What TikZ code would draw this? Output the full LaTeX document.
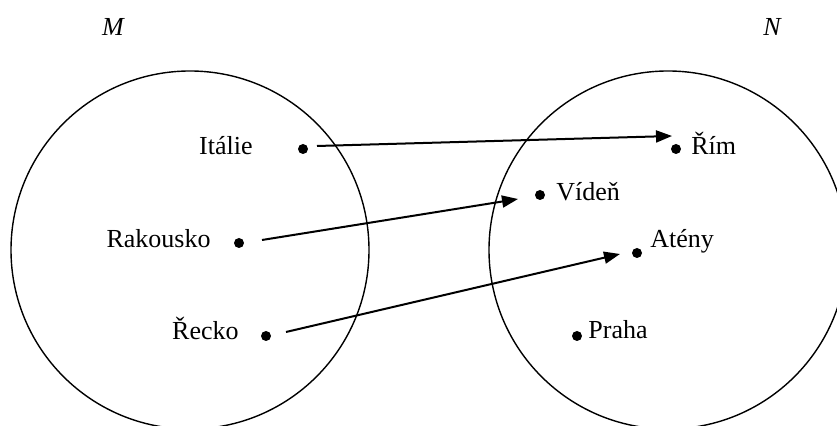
\documentclass[tikz,border=0pt]{standalone}
\usepackage{fontspec}
\setmainfont{Liberation Serif}
\usetikzlibrary{arrows.meta}
\begin{document}
\begin{tikzpicture}[x=0.5pt,y=-0.5pt,
  setline/.style={line width=0.7pt},
  dot/.style={circle,fill=black,inner sep=0pt,minimum size=5pt},
  lbl/.style={inner sep=0pt,font=\fontsize{13pt}{15pt}\selectfont},
  setname/.style={inner sep=0pt,anchor=base,font=\fontsize{13pt}{15pt}\selectfont\itshape},
  arr/.style={line width=1pt,-{Triangle[length=8pt,width=6pt]}}]
\clip (0,0) rectangle (837,426);
% sets
\draw[setline] (190,250) circle[radius=179];
\draw[setline] (668,250) circle[radius=179];
\node[setname] (M) at (113,36) {M};
\node[setname] (N) at (772,36) {N};
% elements of M
\node[dot] (it) at (303,149) {};
\node[dot] (ra) at (239,243) {};
\node[dot] (re) at (266,336) {};
\node[lbl,anchor=base east] (itl) at (253,155) {Itálie};
\node[lbl,anchor=base east] (ral) at (211,248) {Rakousko};
\node[lbl,anchor=base east] (rel) at (239,340) {Řecko};
% elements of N
\node[dot] (rim) at (676,149) {};
\node[dot] (vid) at (540,195) {};
\node[dot] (ate) at (637,253) {};
\node[dot] (pra) at (577,336) {};
\node[lbl,anchor=base west] (riml) at (691,155) {Řím};
\node[lbl,anchor=base west] (vidl) at (556,201) {Vídeň};
\node[lbl,anchor=base west] (atel) at (650,248) {Atény};
\node[lbl,anchor=base west] (pral) at (588,339) {Praha};
% arrow ends
\coordinate (itS) at (317,146);
\coordinate (rimE) at (672,136);
\coordinate (raS) at (262,240);
\coordinate (vidE) at (518,199);
\coordinate (reS) at (286,332);
\coordinate (ateE) at (620,254);
\draw[arr] (itS) -- (rimE);
\draw[arr] (raS) -- (vidE);
\draw[arr] (reS) -- (ateE);
\end{tikzpicture}
\end{document}
